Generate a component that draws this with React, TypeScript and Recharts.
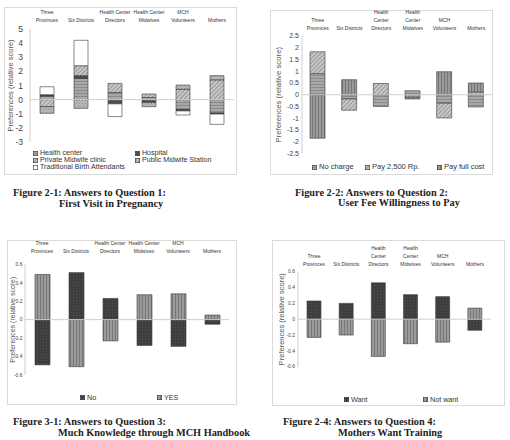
import React from 'react';
import { BarChart, Bar, XAxis, YAxis, ReferenceLine } from 'recharts';

const SANS = '"Liberation Sans", Arial, sans-serif';
const SERIF = '"Liberation Serif", "Times New Roman", serif';

const CATEGORIES = [
  'Three Provinces',
  'Six Districts',
  'Health Center Directors',
  'Health Center Midwives',
  'MCH Volunteers',
  'Mothers',
];
// how the category names wrap above each chart
const LABELS_2 = [['Three', 'Provinces'], ['Six Districts'], ['Health Center', 'Directors'], ['Health Center', 'Midwives'], ['MCH', 'Volunteers'], ['Mothers']];
const LABELS_3 = [['Three', 'Provinces'], ['Six Districts'], ['Health', 'Center', 'Directors'], ['Health', 'Center', 'Midwives'], ['MCH', 'Volunteers'], ['Mothers']];

// Q1: first visit in pregnancy
const Q1_HEALTH_CENTER = [0.25, 1.5, 0.5, 0.15, -0.7, -0.95];
const Q1_HOSPITAL = [0.1, 0.2, -0.3, -0.2, -0.1, -0.07];
const Q1_PRIVATE_MIDWIFE = [-0.5, 0.7, 0.65, 0.25, 0.73, 1.4];
const Q1_PUBLIC_MIDWIFE = [-0.47, -0.62, 0, -0.3, 0.3, 0.3];
const Q1_TBA = [0.56, 1.8, -0.9, 0, -0.29, -0.73];
const Q1_TICKS = [5, 4, 3, 2, 1, 0, -1, -2, -3];

// Q2: user fee willingness to pay
const Q2_NO_CHARGE = [0.9, -0.18, -0.5, 0.17, -0.36, -0.52];
const Q2_PAY_2500 = [0.93, -0.48, 0.48, -0.1, -0.63, 0.12];
const Q2_PAY_FULL = [-1.85, 0.64, 0, -0.08, 0.98, 0.38];
const Q2_TICKS = [2.5, 2, 1.5, 1, 0.5, 0, -0.5, -1, -1.5, -2, -2.5];

// Q3: much knowledge through MCH handbook
const Q3_NO = [-0.49, 0.51, 0.23, -0.28, -0.29, -0.05];
const Q3_YES = [0.49, -0.51, -0.23, 0.27, 0.28, 0.05];

// Q4: mothers want training
const Q4_WANT = [0.23, 0.2, 0.46, 0.31, 0.285, -0.14];
const Q4_NOT_WANT = [-0.23, -0.2, -0.47, -0.31, -0.29, 0.14];
const SMALL_TICKS = [0.6, 0.4, 0.2, 0, -0.2, -0.4, -0.6];

const PANELS = [
  {
    id: 'q1',
    box: { x: 4, y: 7, w: 233, h: 168 },
    plot: { x0: 30, x1: 234, y0: 29, y1: 142 },
    domain: [-3, 5],
    ticks: Q1_TICKS,
    tickFont: 8.5,
    tickGap: 7,
    labelX: 10,
    labelFont: 7.5,
    catLines: LABELS_2,
    catGap: 7,
    catLead: 8,
    barSize: 14,
    series: [
      { key: 'hc', name: 'Health center', fill: 'url(#p-hgrey)', values: Q1_HEALTH_CENTER },
      { key: 'hosp', name: 'Hospital', fill: 'url(#p-dark)', values: Q1_HOSPITAL },
      { key: 'pmc', name: 'Private Midwife clinic', fill: 'url(#p-diag)', values: Q1_PRIVATE_MIDWIFE },
      { key: 'pms', name: 'Public Midwife Station', fill: 'url(#p-cross)', values: Q1_PUBLIC_MIDWIFE },
      { key: 'tba', name: 'Traditional Birth Attendants', fill: '#ffffff', values: Q1_TBA },
    ],
    legend: { cols: [33, 135], rows: [154, 161, 168], font: 7.1 },
    caption: [
      { text: 'Figure 2-1: Answers to Question 1:', x: 13, y: 192 },
      { text: 'First Visit in Pregnancy', x: 59, y: 203 },
    ],
  },
  {
    id: 'q2',
    box: { x: 270, y: 10, w: 223, h: 165 },
    plot: { x0: 302, x1: 492, y0: 36, y1: 153.5 },
    domain: [-2.5, 2.5],
    ticks: Q2_TICKS,
    tickFont: 7,
    tickGap: 3,
    labelX: 278,
    labelFont: 7.8,
    catLines: LABELS_3,
    catGap: 6.5,
    catLead: 7.7,
    barSize: 15,
    series: [
      { key: 'nc', name: 'No charge', fill: 'url(#p-hgrey)', values: Q2_NO_CHARGE },
      { key: 'p25', name: 'Pay 2,500 Rp.', fill: 'url(#p-diag)', values: Q2_PAY_2500 },
      { key: 'pf', name: 'Pay full cost', fill: 'url(#p-vlines)', values: Q2_PAY_FULL },
    ],
    legend: { cols: [312, 365, 437], rows: [167], font: 7.5 },
    caption: [
      { text: 'Figure 2-2: Answers to Question 2:', x: 295, y: 192 },
      { text: 'User Fee Willingness to Pay', x: 338, y: 202.5 },
    ],
  },
  {
    id: 'q3',
    box: { x: 7, y: 240, w: 230, h: 165 },
    plot: { x0: 25, x1: 229, y0: 264.3, y1: 375 },
    domain: [-0.6, 0.6],
    ticks: SMALL_TICKS,
    tickFont: 5,
    tickGap: 2.5,
    labelX: 12.7,
    labelFont: 7,
    catLines: LABELS_2,
    catGap: 11,
    catLead: 8.3,
    barSize: 15,
    series: [
      { key: 'no', name: 'No', fill: 'url(#p-dark2)', values: Q3_NO },
      { key: 'yes', name: 'YES', fill: 'url(#p-vlines)', values: Q3_YES },
    ],
    legend: { cols: [80, 157], rows: [397.7], font: 7.2 },
    caption: [
      { text: 'Figure 3-1: Answers to Question 3:', x: 13, y: 421.7 },
      { text: 'Much Knowledge through MCH Handbook', x: 58, y: 432.3 },
    ],
  },
  {
    id: 'q4',
    box: { x: 272, y: 240, w: 233, h: 166 },
    plot: { x0: 298, x1: 491, y0: 271.7, y1: 366.7 },
    domain: [-0.6, 0.6],
    ticks: SMALL_TICKS,
    tickFont: 5,
    tickGap: 3,
    labelX: 281,
    labelFont: 7.5,
    catLines: LABELS_3,
    catGap: 5.7,
    catLead: 7.8,
    barSize: 14,
    series: [
      { key: 'want', name: 'Want', fill: 'url(#p-dark2)', values: Q4_WANT },
      { key: 'notwant', name: 'Not want', fill: 'url(#p-vlines)', values: Q4_NOT_WANT },
    ],
    legend: { cols: [344, 423], rows: [399.3], font: 7.2 },
    caption: [
      { text: 'Figure 2-4: Answers to Question 4:', x: 283, y: 421.7 },
      { text: 'Mothers Want Training', x: 338, y: 432.3 },
    ],
  },
];

function CatTick(props: any) {
  const { x, y, payload, panel } = props;
  const idx = CATEGORIES.indexOf(payload.value);
  const lines: string[] = panel.catLines[idx] || [payload.value];
  const n = lines.length;
  return (
    <g>
      {lines.map((ln, i) => (
        <text
          key={i}
          x={x}
          y={y - panel.catGap - (n - 1 - i) * panel.catLead}
          textAnchor="middle"
          fontSize={5}
          fontFamily={SANS}
          fill="#333"
        >
          {ln}
        </text>
      ))}
    </g>
  );
}

function Patterns() {
  return (
    <svg width={0} height={0} style={{ position: 'absolute' }}>
      <defs>
        <pattern id="p-hgrey" width="4" height="3" patternUnits="userSpaceOnUse">
          <rect width="4" height="3" fill="#a8a8a8" />
          <rect y="2" width="4" height="1" fill="#8a8a8a" />
        </pattern>
        <pattern id="p-dark" width="3" height="3" patternUnits="userSpaceOnUse">
          <rect width="3" height="3" fill="#4c4c4c" />
          <rect width="1" height="1" fill="#626262" />
        </pattern>
        <pattern id="p-dark2" width="3" height="3" patternUnits="userSpaceOnUse">
          <rect width="3" height="3" fill="#3e3e3e" />
          <rect width="1" height="1" fill="#525252" />
        </pattern>
        <pattern id="p-diag" width="3" height="3" patternUnits="userSpaceOnUse" patternTransform="rotate(45)">
          <rect width="3" height="3" fill="#c8c8c8" />
          <rect width="1" height="3" fill="#969696" />
        </pattern>
        <pattern id="p-cross" width="3" height="3" patternUnits="userSpaceOnUse">
          <rect width="3" height="3" fill="#bcbcbc" />
          <rect width="1" height="1" fill="#888" />
          <rect x="1.5" y="1.5" width="1" height="1" fill="#888" />
        </pattern>
        <pattern id="p-vlines" width="3" height="4" patternUnits="userSpaceOnUse">
          <rect width="3" height="4" fill="#9a9a9a" />
          <rect width="1" height="4" fill="#777" />
        </pattern>
      </defs>
    </svg>
  );
}

function Panel({ panel }: { panel: any }) {
  const { box, plot } = panel;
  const data = CATEGORIES.map((cat, i) => {
    const row: Record<string, number | string> = { cat };
    panel.series.forEach((s: any) => {
      row[s.key] = s.values[i];
    });
    return row;
  });
  const topSpace = plot.y0 - box.y;
  const margin = {
    top: 1,
    right: box.x + box.w - plot.x1,
    bottom: box.y + box.h - plot.y1,
    left: 0,
  };
  const { cols, rows, font } = panel.legend;
  return (
    <>
      <div
        style={{
          position: 'absolute',
          left: box.x,
          top: box.y,
          width: box.w,
          height: box.h,
          border: '1px solid #dadada',
          boxSizing: 'border-box',
        }}
      />
      <div style={{ position: 'absolute', left: box.x, top: box.y }}>
        <BarChart width={box.w} height={box.h} data={data} margin={margin} stackOffset="sign" barSize={panel.barSize}>
          <XAxis
            dataKey="cat"
            orientation="top"
            height={topSpace - 1}
            axisLine={false}
            tickLine={false}
            tickSize={0}
            tickMargin={0}
            interval={0}
            tick={(p: any) => <CatTick {...p} panel={panel} />}
          />
          <YAxis
            type="number"
            domain={panel.domain}
            ticks={panel.ticks}
            interval={0}
            width={plot.x0 - box.x}
            axisLine={{ stroke: '#cfcfcf' }}
            tickLine={false}
            tickSize={0}
            tickMargin={panel.tickGap}
            tick={{ fontSize: panel.tickFont, fill: '#444', fontFamily: SANS }}
            label={{
              value: 'Preferences (relative score)',
              angle: -90,
              position: 'insideLeft',
              offset: panel.labelX - box.x,
              style: { textAnchor: 'middle', fontSize: panel.labelFont, fill: '#555', fontFamily: SANS },
            }}
          />
          <ReferenceLine y={0} stroke="#cfcfcf" strokeWidth={1} />
          {panel.series.map((s: any) => (
            <Bar
              key={s.key}
              dataKey={s.key}
              name={s.name}
              stackId="a"
              fill={s.fill}
              stroke="#3a3a3a"
              strokeWidth={0.6}
              isAnimationActive={false}
            />
          ))}
        </BarChart>
      </div>
      {panel.series.map((s: any, i: number) => (
        <div
          key={s.key}
          style={{
            position: 'absolute',
            left: cols[i % cols.length],
            top: rows[Math.floor(i / cols.length)] - font / 2 - 1,
            display: 'flex',
            alignItems: 'center',
            fontFamily: SANS,
            fontSize: font,
            lineHeight: `${font + 2}px`,
            color: '#333',
            whiteSpace: 'nowrap',
          }}
        >
          <svg width={5} height={5} style={{ marginRight: 2 }}>
            <rect x={0.3} y={0.3} width={4.4} height={4.4} fill={s.fill} stroke="#333" strokeWidth={0.6} />
          </svg>
          {s.name}
        </div>
      ))}
      {panel.caption.map((c: any, i: number) => (
        <div
          key={i}
          style={{
            position: 'absolute',
            left: c.x,
            top: c.y - 6.5,
            fontFamily: SERIF,
            fontWeight: 'bold',
            fontSize: 10.3,
            lineHeight: '13px',
            color: '#222',
            whiteSpace: 'nowrap',
          }}
        >
          {c.text}
        </div>
      ))}
    </>
  );
}

export default function App() {
  return (
    <div style={{ position: 'absolute', left: 0, top: 0, width: 510, height: 440, background: '#fff', overflow: 'hidden' }}>
      <Patterns />
      {PANELS.map((p) => (
        <Panel key={p.id} panel={p} />
      ))}
    </div>
  );
}
